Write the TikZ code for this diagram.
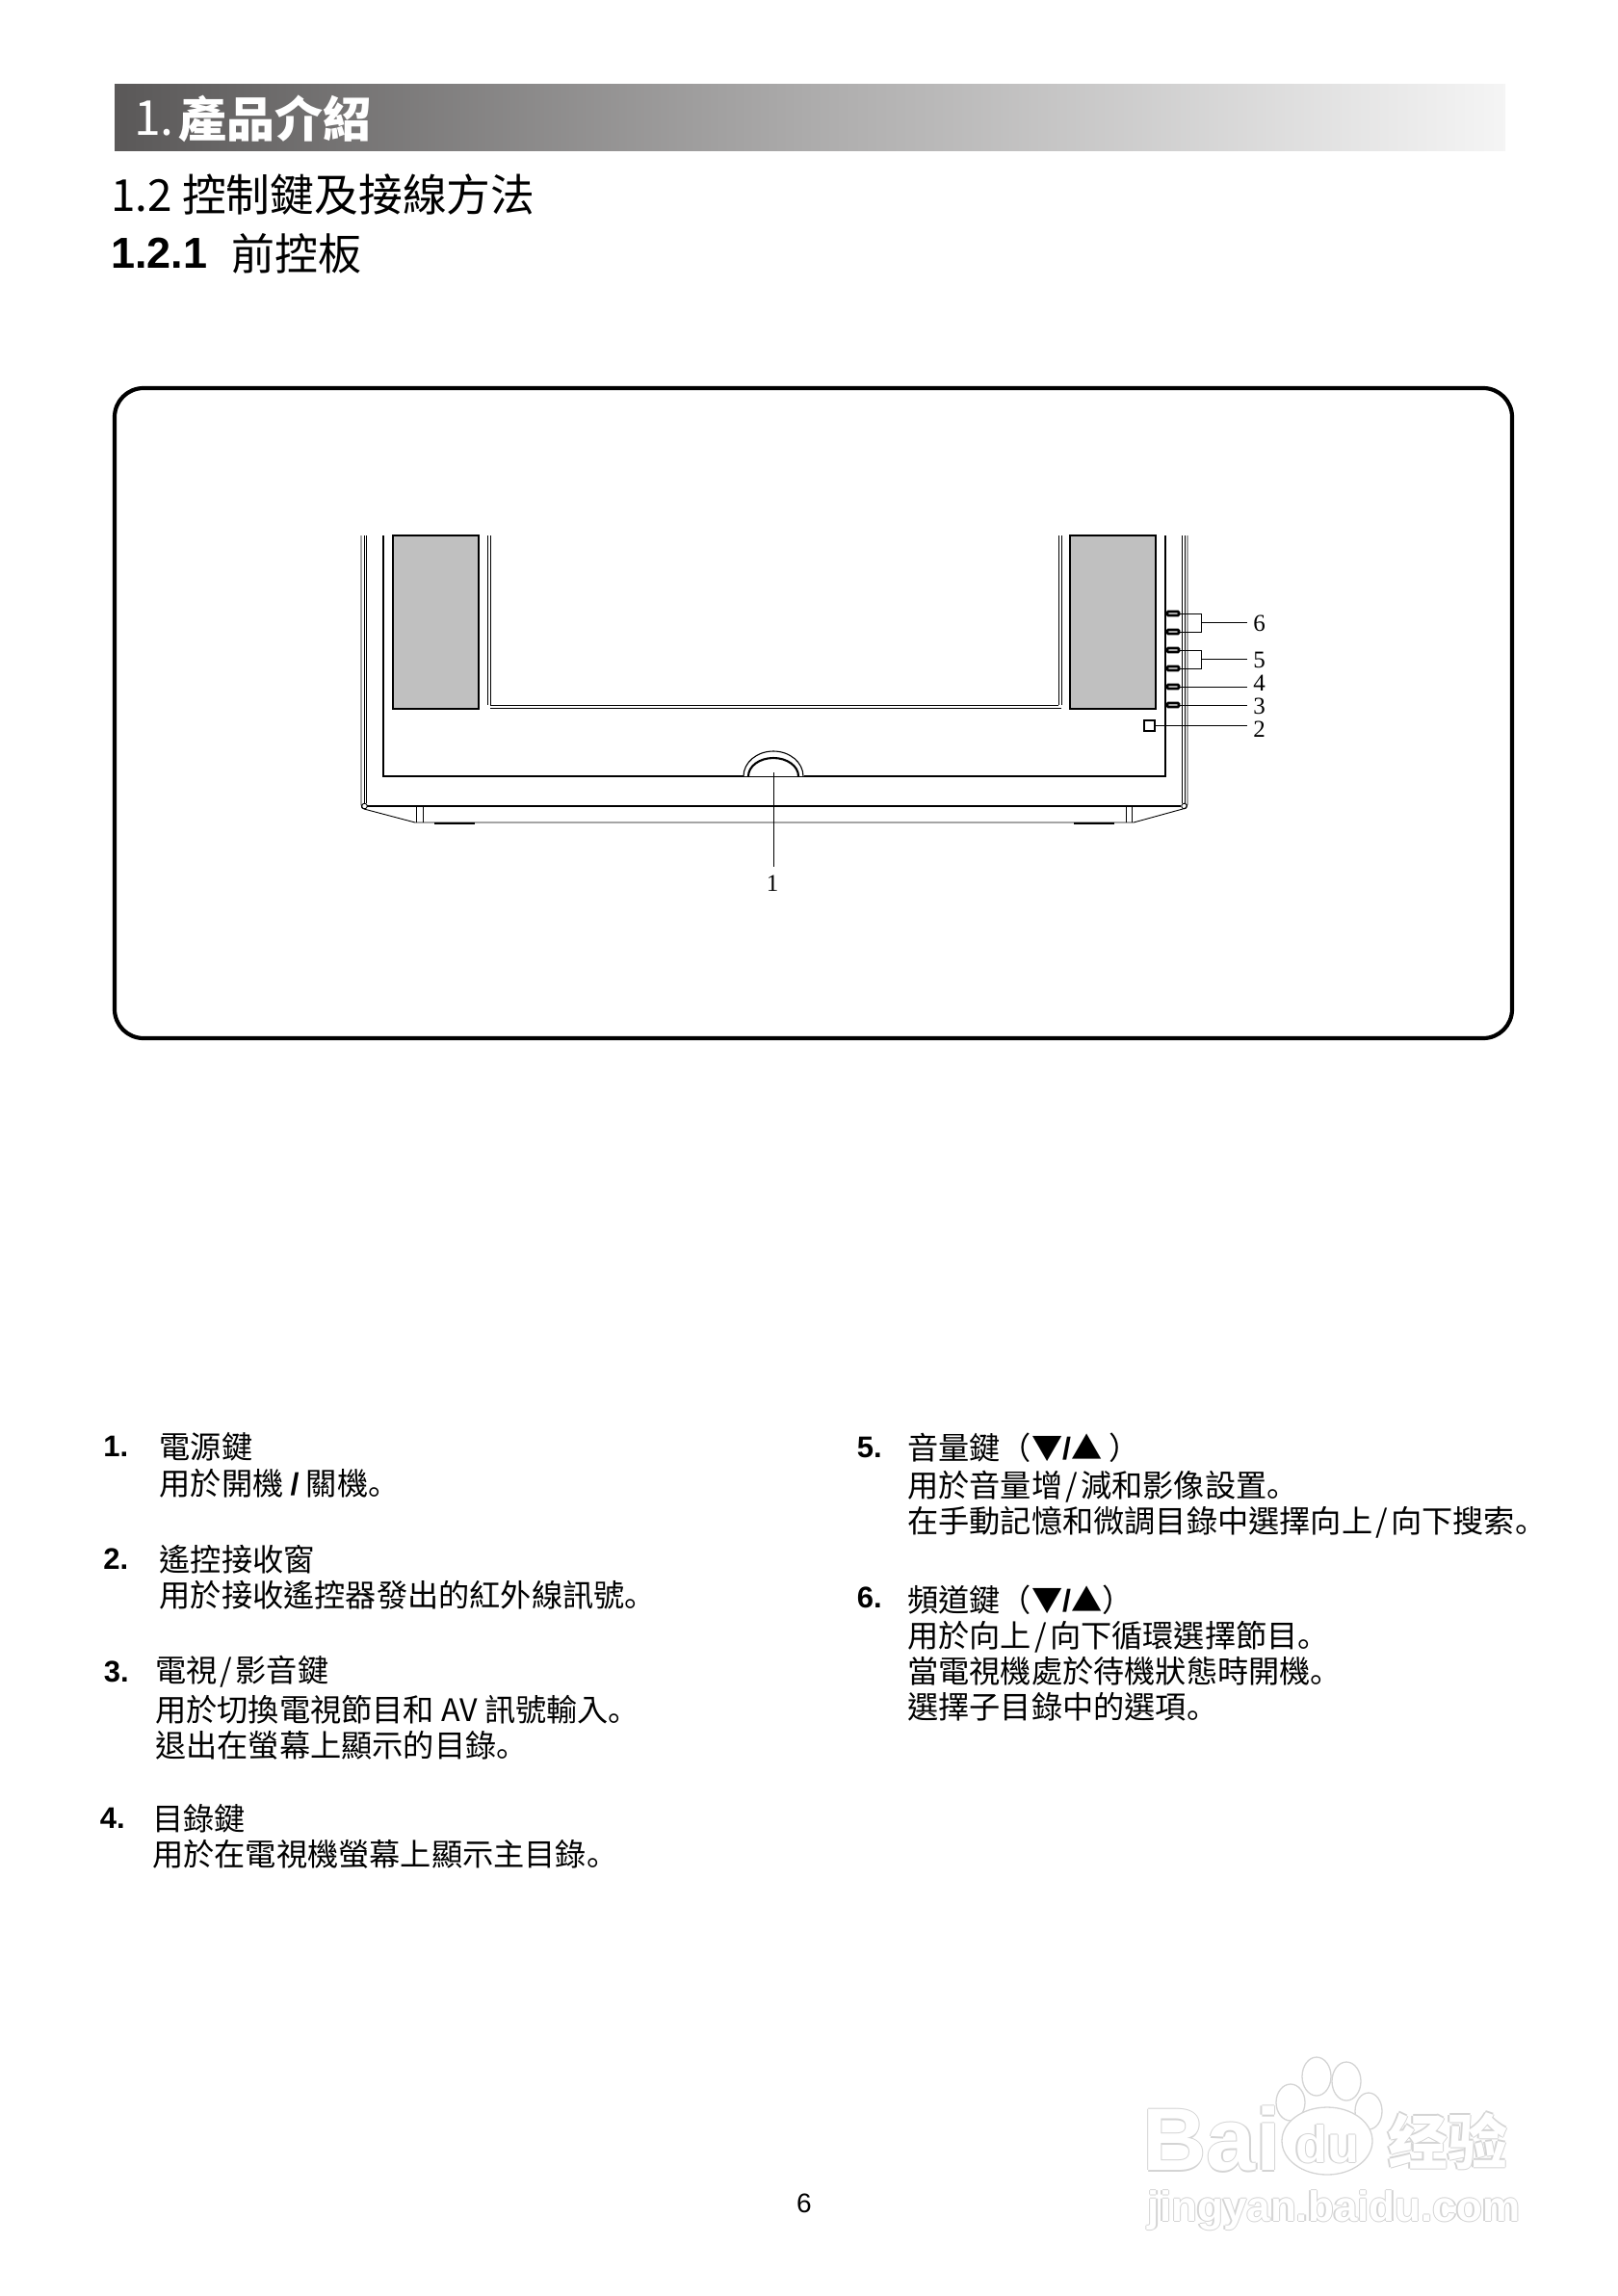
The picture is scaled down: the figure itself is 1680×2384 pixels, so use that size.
\documentclass[tikz,border=0pt]{standalone}
\usepackage{fontspec}
\setmainfont{Noto Sans CJK TC}
\newfontfamily\latfont{Liberation Sans}
\newfontfamily\numfont{Liberation Serif}
\newfontfamily\scfont{Noto Sans CJK SC}
\usetikzlibrary{positioning}
\newcommand{\pd}{{\scfont 。}}
\newcommand{\bslash}{{\latfont\bfseries /}}
\newcommand{\tslash}{\hspace{0.1em}/\hspace{0.1em}}
\definecolor{barleft}{HTML}{5A5858}
\definecolor{speakergray}{HTML}{C0C0C0}
\newcommand{\wmlabel}[4]{% watermark text: name, position, font, text
  \foreach \dx/\dy in {-1.3/0,1.3/0,0/-1.3,0/1.3}
    \node[wmedge,font=#3,xshift=\dx pt,yshift=\dy pt] at (#2) {#4};
  \node[wmface,font=#3] (#1) at (#2) {#4};
}
\tikzset{
  headbar/.style={ % grey title band
    rectangle, inner sep=0pt, minimum width=1444pt, minimum height=69pt,
    left color=barleft, right color=white!96!black, middle color=barleft!50!white
  },
  titletext/.style={
    anchor=west, inner sep=0pt, font=\fontsize{42}{46}\selectfont
  },
  panel/.style={
    draw, rectangle, rounded corners=30pt, line width=4.2pt,
    minimum width=1451pt, minimum height=675pt
  },
  speaker/.style={
    draw, rectangle, fill=speakergray, line width=1.2pt, inner sep=0pt,
    minimum width=89pt, minimum height=180pt
  },
  tvbutton/.style={
    draw, rectangle, fill=white, line width=2.6pt, rounded corners=1pt, inner sep=0pt,
    minimum width=12pt, minimum height=4pt
  },
  sensor/.style={
    draw, rectangle, line width=2pt, inner sep=0pt, minimum size=10.5pt
  },
  thinline/.style={line width=0.9pt},
  leader/.style={line width=0.9pt},
  numlabel/.style={
    inner sep=0pt, outer sep=6pt, font=\numfont\fontsize{25}{28}\selectfont
  },
  itemhead/.style={
    anchor=west, inner sep=0pt, font=\fontsize{32.2}{37}\selectfont
  },
  itembody/.style={
    align=left, inner sep=0pt, font=\fontsize{32.2}{37}\selectfont
  },
  itemnum/.style={
    inner sep=0pt, font=\latfont\bfseries\fontsize{31}{34}\selectfont
  },
  wmedge/.style={text=black!17, inner sep=0pt},
  wmface/.style={text=white, inner sep=0pt},
  toe/.style={draw=black!17, fill=white, line width=1.3pt}
}
\begin{document}
\begin{tikzpicture}[x=1pt,y=-1pt]
  \useasboundingbox (0,0) rectangle (1680,2384);

  % headings
  \node[headbar] (bar) at (841,122.5) {};
  \node[titletext,text=white,font=\fontsize{50}{54}\selectfont] (titlenum) at (139,123) {1.};
  \node[titletext,text=white,font=\bfseries\fontsize{50}{54}\selectfont] (title) at (185,123) {產品介紹};
  \node[titletext,font=\fontsize{45.8}{50}\selectfont] (sect) at (115,202) {1.2 控制鍵及接線方法};
  \node[itemnum,anchor=west,font=\latfont\bfseries\fontsize{45}{48}\selectfont] (subnum) at (115,263) {1.2.1};
  \node[titletext,font=\fontsize{45}{48}\selectfont] (subsect) at (240,263) {前控板};

  \node[panel] (frame) at (844.5,740.5) {};

  % television front
  \node[speaker] (spkL) at (452.5,646) {};
  \node[speaker] (spkR) at (1155.5,646) {};
  \draw[line width=1.9pt] (398,556) -- (398,806) -- (772,806);
  \draw[line width=1.9pt] (1210,556) -- (1210,806) -- (835,806);
  \draw[thinline] (506,556) -- (506,732) (509,556) -- (509,732) -- (1099,732);
  \draw[thinline] (509,735.5) -- (1102,735.5) (1102,556) -- (1102,732) (1099,556) -- (1099,732);
  % case edges
  \draw[thinline] (375,556) -- (375,835) .. controls (375,838) and (376,840) .. (378,840) -- (431,854) -- (1177,854)
    -- (1228,840) .. controls (1231,840) and (1233,838) .. (1233,835) -- (1233,556);
  \draw[thinline] (378,556) -- (378,834) (380.5,556) -- (380.5,834);
  \draw[thinline] (1227.5,556) -- (1227.5,834) (1230,556) -- (1230,834);
  \draw[thinline] (378.5,837) circle (2.8pt) (1229.5,837) circle (2.8pt);
  \draw[line width=2.4pt] (381,837) -- (1226,837);
  \draw[thinline] (432,838) -- (432,854) (439,838) -- (439,854);
  \draw[thinline] (1169,838) -- (1169,854) (1175,838) -- (1175,854);
  \draw[line width=1.6pt] (451,855) -- (493,855) (1115,855) -- (1157,855);

  % arch of the power key
  \draw[line width=1.2pt] (771,806.5) -- (836,806.5);
  \draw[line width=1.1pt] (772,806) arc[start angle=180,end angle=0,x radius=31pt,y radius=26pt];
  \draw[line width=2.1pt] (777,806) arc[start angle=180,end angle=0,x radius=26pt,y radius=19pt];
  \coordinate (archc) at (803,802);

  % keys
  \node[tvbutton] (btn6a) at (1218,637) {};
  \node[tvbutton] (btn6b) at (1218,656) {};
  \node[tvbutton] (btn5a) at (1218,675) {};
  \node[tvbutton] (btn5b) at (1218,694) {};
  \node[tvbutton] (btn4) at (1218,713) {};
  \node[tvbutton] (btn3) at (1218,732) {};
  \node[sensor] (recv) at (1193.5,753.5) {};

  % callouts
  \node[numlabel] (lab1) at (802,917) {1};
  \node[numlabel] (lab2) at (1307.5,757) {2};
  \node[numlabel] (lab3) at (1307.5,733) {3};
  \node[numlabel] (lab4) at (1307.5,709) {4};
  \node[numlabel] (lab5) at (1307.5,685) {5};
  \node[numlabel] (lab6) at (1307.5,647) {6};
  \coordinate (brk6) at (1247,646.5);
  \coordinate (brk5) at (1247,684.5);
  \draw[leader] (btn6a.east) -| (brk6) |- (btn6b.east);
  \draw[leader] (btn5a.east) -| (brk5) |- (btn5b.east);
  \draw[leader] (brk6) -- (brk6 -| lab6.west);
  \draw[leader] (brk5) -- (brk5 -| lab5.west);
  \draw[leader] (btn4.east) -- (btn4.east -| lab4.west);
  \draw[leader] (btn3.east) -- (btn3.east -| lab3.west);
  \draw[leader] (recv.east) -- (recv.east -| lab2.west);
  \draw[leader,shorten >=3pt] (archc) -- (archc |- lab1.north);

  % left column
  \node[itemhead] (head1) at (165.5,1502) {電源鍵};
  \node[itembody,below=8pt of head1.south west,anchor=north west] (body1) {用於開機 \bslash{} 關機\pd};
  \node[itemnum,left=32pt of head1] (num1) {1.};
  \node[itemhead] (head2) at (165.5,1619) {遙控接收窗};
  \node[itembody,below=7pt of head2.south west,anchor=north west] (body2) {用於接收遙控器發出的紅外線訊號\pd};
  \node[itemnum,left=32pt of head2] (num2) {2.};
  \node[itemhead] (head3) at (161,1736) {電視\tslash 影音鍵};
  \node[itembody,below=7pt of head3.south west,anchor=north west] (body3) {用於切換電視節目和 AV 訊號輸入\pd\\退出在螢幕上顯示的目錄\pd};
  \node[itemnum,left=27pt of head3] (num3) {3.};
  \node[itemhead] (head4) at (158,1888) {目錄鍵};
  \node[itembody,below=7pt of head4.south west,anchor=north west] (body4) {用於在電視機螢幕上顯示主目錄\pd};
  \node[itemnum,left=28pt of head4] (num4) {4.};

  % right column
  \node[itemhead] (head5) at (942,1503) {音量鍵（▼{\latfont\bfseries /}▲ ）};
  \node[itembody,below=8pt of head5.south west,anchor=north west] (body5) {用於音量增\tslash 減和影像設置\pd\\在手動記憶和微調目錄中選擇向上\tslash 向下搜索\pd};
  \node[itemnum,left=26pt of head5] (num5) {5.};
  \node[itemhead] (head6) at (942,1661) {頻道鍵（▼{\latfont\bfseries /}▲）};
  \node[itembody,below=7pt of head6.south west,anchor=north west] (body6) {用於向上\tslash 向下循環選擇節目\pd\\當電視機處於待機狀態時開機\pd\\選擇子目錄中的選項\pd};
  \node[itemnum,left=26pt of head6,yshift=2pt] (num6) {6.};

  \node[inner sep=0pt,font=\latfont\fontsize{28}{32}\selectfont] (page) at (835,2288) {6};

  % watermark
  \wmlabel{wmbai}{1258,2221}{\latfont\bfseries\fontsize{92}{96}\selectfont}{Bai}
  \draw[toe] (1340,2183) ellipse[x radius=15pt,y radius=19pt];
  \draw[toe] (1367,2156) ellipse[x radius=15pt,y radius=20pt];
  \draw[toe] (1398,2161) ellipse[x radius=15pt,y radius=20pt];
  \draw[toe] (1421,2192) ellipse[x radius=14pt,y radius=19pt];
  \draw[toe] (1378,2223) ellipse[x radius=47pt,y radius=35pt];
  \wmlabel{wmdu}{1378,2226}{\latfont\bfseries\fontsize{54}{58}\selectfont}{du}
  \wmlabel{wmjy}{1503,2223}{\scfont\bfseries\fontsize{62}{66}\selectfont}{经验}
  \wmlabel{wmurl}{1385,2295}{\latfont\bfseries\fontsize{44}{48}\selectfont}{jingyan.baidu.com}
\end{tikzpicture}
\end{document}
